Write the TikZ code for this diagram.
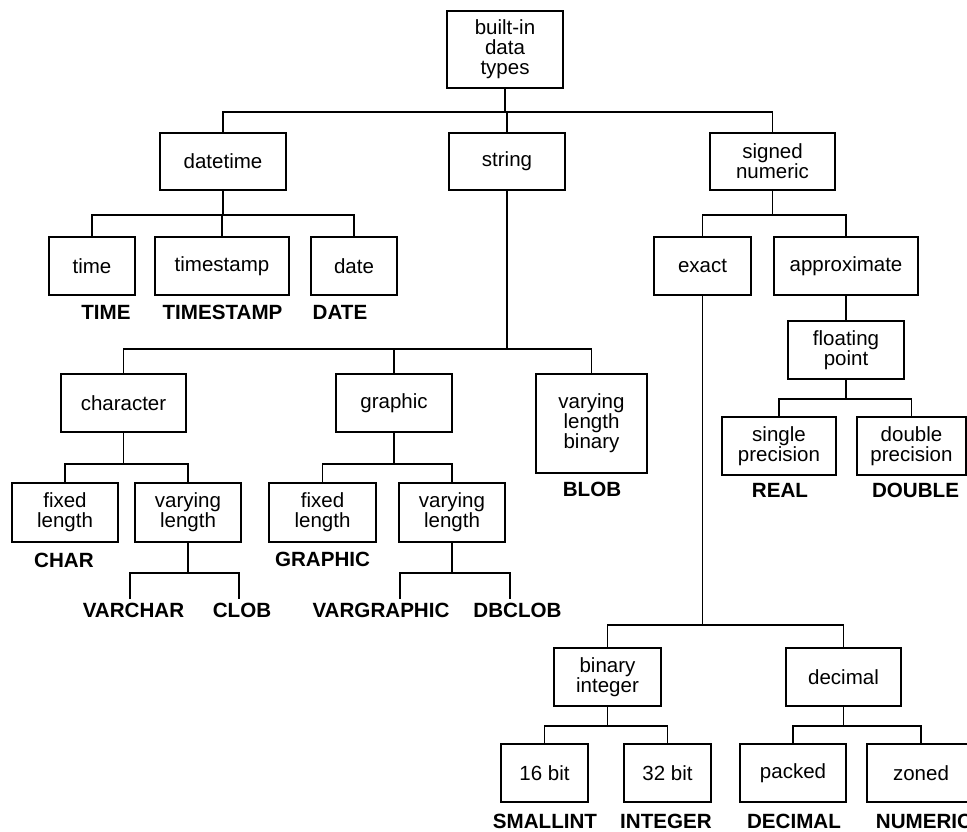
\documentclass[tikz,border=0pt]{standalone}
\usepackage{fontspec}
\setmainfont{Liberation Sans}
\newcommand\boxfont{\fontsize{20.5}{20}\selectfont}
\newcommand\labfont{\fontsize{20.6}{20}\selectfont\bfseries}
\tikzset{
  tbox/.style={draw, line width=1.3pt, inner sep=0pt, align=center, font=\boxfont},
  lab/.style={inner sep=0pt, anchor=base, font=\labfont},
  conn/.style={line width=1.3pt},
}
\begin{document}
\begin{tikzpicture}[x=1pt, y=-1pt]
\useasboundingbox[fill=white] (0,0) rectangle (967,831);

% ---- level 0 / 1
\node[tbox, minimum width=116pt, minimum height=77pt] (root) at (505,49.5) {built-in\\data\\types};
\node[tbox, minimum width=126pt, minimum height=57pt] (datetime) at (223,161.5) {datetime};
\node[tbox, minimum width=116pt, minimum height=57pt] (string) at (507,161.5) {string};
\node[tbox, minimum width=125pt, minimum height=57pt] (snum) at (772.5,161.5) {signed\\numeric};

% ---- datetime children
\node[tbox, minimum width=86pt, minimum height=58pt] (time) at (92,266) {time};
\node[tbox, minimum width=134pt, minimum height=58pt] (tstamp) at (222,266) {timestamp};
\node[tbox, minimum width=86pt, minimum height=58pt] (date) at (354,266) {date};
\node[lab] (lTime) at (106,319) {TIME};
\node[lab] (lTstamp) at (222.5,319) {TIMESTAMP};
\node[lab] (lDate) at (340,319) {DATE};

% ---- signed numeric children
\node[tbox, minimum width=97pt, minimum height=58pt] (exact) at (702.5,266) {exact};
\node[tbox, minimum width=144pt, minimum height=58pt] (approx) at (846,266) {approximate};
\node[tbox, minimum width=116pt, minimum height=58pt] (float) at (846,350) {floating\\point};
\node[tbox, minimum width=114pt, minimum height=58pt] (single) at (779,446) {single\\precision};
\node[tbox, minimum width=109pt, minimum height=58pt] (double) at (911.5,446) {double\\precision};
\node[lab] (lReal) at (780,497) {REAL};
\node[lab] (lDouble) at (915.5,497) {DOUBLE};

% ---- string children
\node[tbox, minimum width=125pt, minimum height=58pt] (character) at (123.5,403) {character};
\node[tbox, minimum width=116pt, minimum height=58pt] (graphic) at (394,403) {graphic};
\node[tbox, minimum width=111pt, minimum height=99pt] (vlb) at (591.5,423.5) {varying\\length\\binary};
\node[lab] (lBlob) at (592,496) {BLOB};

\node[tbox, minimum width=106pt, minimum height=59pt] (cfixed) at (65,512.5) {fixed\\length};
\node[tbox, minimum width=106pt, minimum height=59pt] (cvary) at (188,512.5) {varying\\length};
\node[tbox, minimum width=107pt, minimum height=59pt] (gfixed) at (322.5,512.5) {fixed\\length};
\node[tbox, minimum width=106pt, minimum height=59pt] (gvary) at (452,512.5) {varying\\length};
\node[lab] (lChar) at (64,567) {CHAR};
\node[lab] (lGraphic) at (322.5,566) {GRAPHIC};
\node[lab] (lVarchar) at (133.5,617) {VARCHAR};
\node[lab] (lClob) at (242,617) {CLOB};
\node[lab] (lVargraphic) at (381,617) {VARGRAPHIC};
\node[lab] (lDbclob) at (517.5,617) {DBCLOB};

% ---- exact children
\node[tbox, minimum width=107pt, minimum height=58pt] (binint) at (607.5,677) {binary\\integer};
\node[tbox, minimum width=115pt, minimum height=58pt] (decimal) at (843.5,677) {decimal};
\node[tbox, minimum width=87pt, minimum height=58pt] (b16) at (544.5,773) {16 bit};
\node[tbox, minimum width=87pt, minimum height=58pt] (b32) at (667.5,773) {32 bit};
\node[tbox, minimum width=106pt, minimum height=58pt] (packed) at (793,773) {packed};
\node[tbox, minimum width=108pt, minimum height=58pt] (zoned) at (921,773) {zoned};
\node[lab] (lSmallint) at (545,828) {SMALLINT};
\node[lab] (lInteger) at (666,828) {INTEGER};
\node[lab] (lDecimal) at (794,828) {DECIMAL};
\node[lab] (lNumeric) at (924,828) {NUMERIC};

% ---- bus levels
\coordinate (bRoot) at (0,112);
\coordinate (bDt) at (0,215);
\coordinate (bSn) at (0,215);
\coordinate (bStr) at (0,349);
\coordinate (bCh) at (0,464);
\coordinate (bGr) at (0,464);
\coordinate (bFl) at (0,399);
\coordinate (bEx) at (0,625);
\coordinate (bBi) at (0,726);
\coordinate (bDe) at (0,726);
\coordinate (bVc) at (0,573);
\coordinate (bVg) at (0,573);
% free ends of the last brackets
\coordinate (vcL) at (130,599);
\coordinate (vcR) at (239,599);
\coordinate (vgL) at (400,599);
\coordinate (vgR) at (510,599);

% ---- connectors
\begin{scope}[conn]
\draw (root.south) -- (root.south |- bRoot);
\draw (datetime.north) -- (datetime.north |- bRoot) -- (snum.north |- bRoot) -- (snum.north);
\draw (string.north) -- (string.north |- bRoot);

\draw (datetime.south) -- (datetime.south |- bDt);
\draw (time.north) -- (time.north |- bDt) -- (date.north |- bDt) -- (date.north);
\draw (tstamp.north) -- (tstamp.north |- bDt);

\draw (snum.south) -- (snum.south |- bSn);
\draw (exact.north) -- (exact.north |- bSn) -- (approx.north |- bSn) -- (approx.north);
\draw (approx.south) -- (float.north);
\draw (float.south) -- (float.south |- bFl);
\draw (single.north) -- (single.north |- bFl) -- (double.north |- bFl) -- (double.north);

\draw (string.south) -- (string.south |- bStr);
\draw (character.north) -- (character.north |- bStr) -- (vlb.north |- bStr) -- (vlb.north);
\draw (graphic.north) -- (graphic.north |- bStr);

\draw (character.south) -- (character.south |- bCh);
\draw (cfixed.north) -- (cfixed.north |- bCh) -- (cvary.north |- bCh) -- (cvary.north);
\draw (graphic.south) -- (graphic.south |- bGr);
\draw (gfixed.north) -- (gfixed.north |- bGr) -- (gvary.north |- bGr) -- (gvary.north);

\draw (cvary.south) -- (cvary.south |- bVc);
\draw (vcL) -- (vcL |- bVc) -- (vcR |- bVc) -- (vcR);
\draw (gvary.south) -- (gvary.south |- bVg);
\draw (vgL) -- (vgL |- bVg) -- (vgR |- bVg) -- (vgR);

\draw (exact.south) -- (exact.south |- bEx);
\draw (binint.north) -- (binint.north |- bEx) -- (decimal.north |- bEx) -- (decimal.north);
\draw (binint.south) -- (binint.south |- bBi);
\draw (b16.north) -- (b16.north |- bBi) -- (b32.north |- bBi) -- (b32.north);
\draw (decimal.south) -- (decimal.south |- bDe);
\draw (packed.north) -- (packed.north |- bDe) -- (zoned.north |- bDe) -- (zoned.north);
\end{scope}
\end{tikzpicture}
\end{document}
